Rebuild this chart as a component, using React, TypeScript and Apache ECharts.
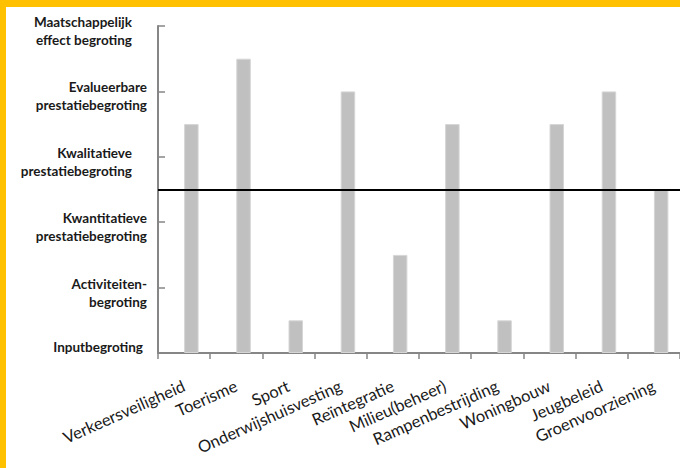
import React, { useEffect, useRef } from 'react';
import * as echarts from 'echarts';

const categories = [
  'Verkeersveiligheid',
  'Toerisme',
  'Sport',
  'Onderwijshuisvesting',
  'Reïntegratie',
  'Milieu(beheer)',
  'Rampenbestrijding',
  'Woningbouw',
  'Jeugbeleid',
  'Groenvoorziening',
];
const levelValues = [3.5, 4.5, 0.5, 4, 1.5, 3.5, 0.5, 3.5, 4, 2.5];
const levelLabels = [
  'Inputbegroting',
  'Activiteiten-\nbegroting',
  'Kwantitatieve\nprestatiebegroting',
  'Kwalitatieve\nprestatiebegroting',
  'Evalueerbare\nprestatiebegroting',
  'Maatschappelijk\neffect begroting',
];
const labelStyleKeys = ['i', 'n', 'n', 's', 'n', 's'];
const thresholdValue = 2.5;

const FONT = 'Lato, "Noto Sans", sans-serif';
const GREY_AXIS = '#868686';

export default function App() {
  const ref = useRef<HTMLDivElement>(null);
  useEffect(() => {
    if (!ref.current) return;
    const chart = echarts.init(ref.current, null, { renderer: 'svg' });
    const baseRich = {
      fontFamily: FONT,
      fontSize: 13.5,
      fontWeight: 'bold' as const,
      color: '#1a1a1a',
      lineHeight: 18,
      align: 'right' as const,
    };
    chart.setOption({
      animation: false,
      backgroundColor: '#ffffff',
      graphic: [
        { type: 'rect', left: 0, top: 0, shape: { width: 680, height: 7 }, style: { fill: '#FFC000' }, z: 100 },
        { type: 'rect', left: 0, top: 0, shape: { width: 6, height: 468 }, style: { fill: '#FFC000' }, z: 100 },
      ],
      grid: { left: 158, top: 26, width: 525, height: 327 },
      xAxis: {
        type: 'category',
        data: categories,
        axisLine: { show: true, lineStyle: { color: GREY_AXIS, width: 2 } },
        axisTick: { show: true, length: 6, lineStyle: { color: GREY_AXIS, width: 1.5 } },
        axisLabel: {
          interval: 0,
          rotate: 24,
          margin: 32,
          fontFamily: FONT,
          fontSize: 16.5,
          color: '#1a1a1a',
        },
      },
      yAxis: {
        type: 'value',
        min: 0,
        max: 5,
        interval: 1,
        splitLine: { show: false },
        axisLine: { show: true, lineStyle: { color: GREY_AXIS, width: 2 } },
        axisTick: { show: true, inside: true, length: 7, lineStyle: { color: GREY_AXIS, width: 1.5 } },
        axisLabel: {
          margin: 11,
          padding: [10, 0, 0, 0],
          formatter: (v: number) => {
            const idx = Math.round(v);
            const key = labelStyleKeys[idx];
            return levelLabels[idx]
              .split('\n')
              .map((l) => `{${key}|${l}}`)
              .join('\n');
          },
          rich: {
            n: { ...baseRich },
            s: { ...baseRich, padding: [0, 15, 0, 0] },
            i: { ...baseRich, padding: [0, 4, 22, 0] },
          },
        },
      },
      series: [
        {
          name: 'pad',
          type: 'bar',
          barWidth: 14.5,
          barGap: '0%',
          data: categories.map(() => null),
        },
        {
          name: 'niveau',
          type: 'bar',
          barWidth: 14.5,
          barGap: '0%',
          data: levelValues,
          itemStyle: { color: '#c0c0c0', borderColor: '#d6d6d6', borderWidth: 1 },
          markLine: {
            silent: true,
            symbol: 'none',
            label: { show: false },
            lineStyle: { color: '#000000', width: 2, type: 'solid' },
            data: [{ yAxis: thresholdValue }],
          },
        },
      ],
    });
    return () => chart.dispose();
  }, []);
  return (
    <div
      ref={ref}
      style={{ position: 'fixed', left: 0, top: 0, width: 680, height: 468, background: '#fff' }}
    />
  );
}
